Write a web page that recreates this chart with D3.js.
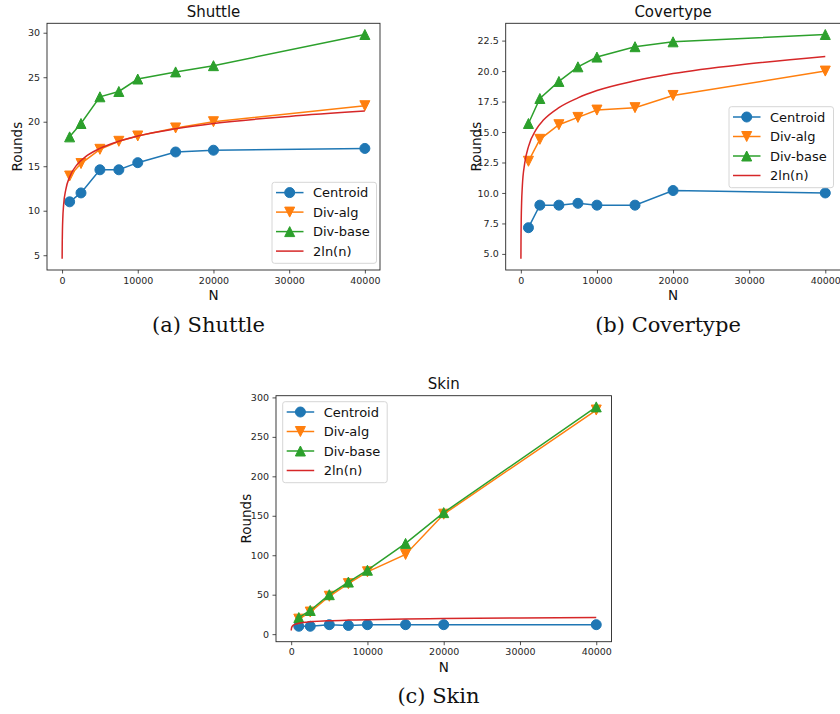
<!DOCTYPE html>
<html lang="en">
<head>
  <meta charset="UTF-8">
  <title>Rounds vs N</title>
  <script src="https://d3js.org/d3.v7.min.js"></script>
  <style>
    body { margin: 0; background: #fff; }
    svg { display: block; font-family: 'DejaVu Sans', sans-serif; }
    .tick text { font-family: 'DejaVu Sans', sans-serif; font-size: 9.5px; fill: #262626; }
    .tick line { stroke: #262626; stroke-width: 0.8; }
    .frame { fill: none; stroke: #262626; stroke-width: 0.9; }
    .title { font-size: 15px; fill: #111; text-anchor: middle; }
    .axis-label { font-size: 13.5px; fill: #111; text-anchor: middle; }
    .caption { font-family: 'DejaVu Serif', serif; font-size: 21px; fill: #111; text-anchor: middle; }
    .legend-box { fill: #fff; fill-opacity: 0.8; stroke: #d6d6d6; stroke-width: 1; }
    .legend-text { font-size: 13px; fill: #111; }
  </style>
</head>
<body>
<svg width="840" height="714"></svg>
<script>
  // data
  const nValues = [1000, 2500, 5000, 7500, 10000, 15000, 20000, 40000];

  const shuttleCentroid = [11, 12, 14.6, 14.6, 15.4, 16.6, 16.8, 17];
  const shuttleDivAlg   = [13.9, 15.3, 16.9, 17.8, 18.4, 19.3, 20.0, 21.8];
  const shuttleDivBase  = [18.3, 19.8, 22.8, 23.4, 24.8, 25.6, 26.3, 29.8];

  const coverCentroid = [7.15, 9.0, 9.0, 9.15, 9.0, 9.0, 10.2, 10.0];
  const coverDivAlg   = [12.6, 14.4, 15.6, 16.2, 16.8, 17.0, 18.0, 20.0];
  const coverDivBase  = [15.7, 17.75, 19.15, 20.35, 21.15, 22.0, 22.4, 23.0];

  const skinCentroid = [10, 10, 12, 11, 12, 12, 12, 12];
  const skinDivAlg   = [19, 28, 48, 64, 79, 101, 152, 284];
  const skinDivBase  = [21, 30, 50, 66, 81, 115, 154, 288];

  // 2ln(n) reference curve, read at these n
  const lnN      = [10, 20, 30, 50, 100, 200, 500, 1000, 2000, 3000, 5000, 7500, 10000, 15000, 20000, 30000, 40000];
  const lnRounds = [4.6, 6.0, 6.8, 7.8, 9.2, 10.6, 12.4, 13.8, 15.2, 16.0, 17.0, 17.8, 18.4, 19.2, 19.8, 20.6, 21.2];

  const xTicks = [0, 10000, 20000, 30000, 40000];
  const shuttleYTicks = [5, 10, 15, 20, 25, 30];
  const coverYTicks = [5, 7.5, 10, 12.5, 15, 17.5, 20, 22.5];
  const skinYTicks = [0, 50, 100, 150, 200, 250, 300];

  const seriesNames = ["Centroid", "Div-alg", "Div-base", "2ln(n)"];
  const colors = ["#1f77b4", "#ff7f0e", "#2ca02c", "#d62728"];
  const markers = ["circle", "down", "up", null];

  const svg = d3.select("svg");

  const panels = [
    {title: "Shuttle", caption: "(a) Shuttle", box: [47, 23.3, 380, 270], yTicks: shuttleYTicks, fmt: d3.format("d"),
     data: [shuttleCentroid, shuttleDivAlg, shuttleDivBase], legend: [272, 182.3], capX: 208.5, capY: 332},
    {title: "Covertype", caption: "(b) Covertype", box: [505.7, 23.3, 840.5, 270], yTicks: coverYTicks, fmt: d3.format(".1f"),
     data: [coverCentroid, coverDivAlg, coverDivBase], legend: [729, 106.7], capX: 668, capY: 332},
    {title: "Skin", caption: "(c) Skin", box: [276, 395.7, 611.5, 641.7], yTicks: skinYTicks, fmt: d3.format("d"),
     data: [skinCentroid, skinDivAlg, skinDivBase], legend: [282.7, 401.7], capX: 438.5, capY: 703}
  ];

  function markerPath(type, s) {
    const h = s / 2;
    if (type === "up") return `M0,${-h}L${-h},${h}L${h},${h}Z`;
    if (type === "down") return `M0,${h}L${-h},${-h}L${h},${-h}Z`;
    return null;
  }

  function drawMarker(g, type, color, cx, cy) {
    const size = 10;
    if (type === "circle") {
      g.append("circle").attr("cx", cx).attr("cy", cy).attr("r", size / 2)
        .attr("fill", color).attr("stroke", color).attr("stroke-width", 1);
    } else if (type) {
      g.append("path").attr("d", markerPath(type, size))
        .attr("transform", `translate(${cx},${cy})`)
        .attr("fill", color).attr("stroke", color).attr("stroke-width", 1);
    }
  }

  // matplotlib-like 5% padding around the data
  function padded(ext) {
    const m = (ext[1] - ext[0]) * 0.05;
    return [ext[0] - m, ext[1] + m];
  }

  panels.forEach(p => {
    const [x0, y0, x1, y1] = p.box;
    const allY = p.data.flat().concat(lnRounds);
    const x = d3.scaleLinear().domain(padded([lnN[0], d3.max(nValues)])).range([x0, x1]);
    const y = d3.scaleLinear().domain(padded(d3.extent(allY))).range([y1, y0]);

    const g = svg.append("g");

    // axes
    g.append("g").attr("transform", `translate(0,${y1})`)
      .call(d3.axisBottom(x).tickValues(xTicks).tickFormat(d3.format("d")).tickSizeInner(3.5).tickSizeOuter(0).tickPadding(3.5))
      .call(a => a.select(".domain").remove());
    g.append("g").attr("transform", `translate(${x0},0)`)
      .call(d3.axisLeft(y).tickValues(p.yTicks).tickFormat(p.fmt).tickSizeInner(3.5).tickSizeOuter(0).tickPadding(3.5))
      .call(a => a.select(".domain").remove());

    const line = d3.line().x(d => x(d[0])).y(d => y(d[1]));

    p.data.forEach((vals, i) => {
      const pts = nValues.map((n, k) => [n, vals[k]]);
      const sg = g.append("g");
      sg.append("path").attr("d", line(pts)).attr("fill", "none")
        .attr("stroke", colors[i]).attr("stroke-width", 1.5);
      pts.forEach(pt => drawMarker(sg, markers[i], colors[i], x(pt[0]), y(pt[1])));
    });

    const lnPts = lnN.map((n, k) => [n, lnRounds[k]]);
    g.append("path").attr("d", line.curve(d3.curveMonotoneX)(lnPts))
      .attr("fill", "none").attr("stroke", colors[3]).attr("stroke-width", 1.5);

    g.append("rect").attr("class", "frame")
      .attr("x", x0).attr("y", y0).attr("width", x1 - x0).attr("height", y1 - y0);

    // legend
    const [lx, ly] = p.legend;
    const lg = g.append("g").attr("transform", `translate(${lx},${ly})`);
    lg.append("rect").attr("class", "legend-box").attr("width", 104.5).attr("height", 81).attr("rx", 2.5);
    seriesNames.forEach((name, i) => {
      const cy = 10.3 + i * 19.5;
      lg.append("line").attr("x1", 4).attr("x2", 31.5).attr("y1", cy).attr("y2", cy)
        .attr("stroke", colors[i]).attr("stroke-width", 1.5);
      drawMarker(lg, markers[i], colors[i], 17.7, cy);
      lg.append("text").attr("class", "legend-text").attr("x", 41).attr("y", cy).attr("dy", "0.35em").text(name);
    });

    // labels
    g.append("text").attr("class", "title").attr("x", (x0 + x1) / 2).attr("y", y0 - 6.5).text(p.title);
    g.append("text").attr("class", "axis-label").attr("x", (x0 + x1) / 2).attr("y", y1 + 30).text("N");
    g.append("text").attr("class", "axis-label")
      .attr("transform", `translate(${x0 - 25},${(y0 + y1) / 2}) rotate(-90)`).text("Rounds");
    svg.append("text").attr("class", "caption").attr("x", p.capX).attr("y", p.capY).text(p.caption);
  });
</script>
</body>
</html>
